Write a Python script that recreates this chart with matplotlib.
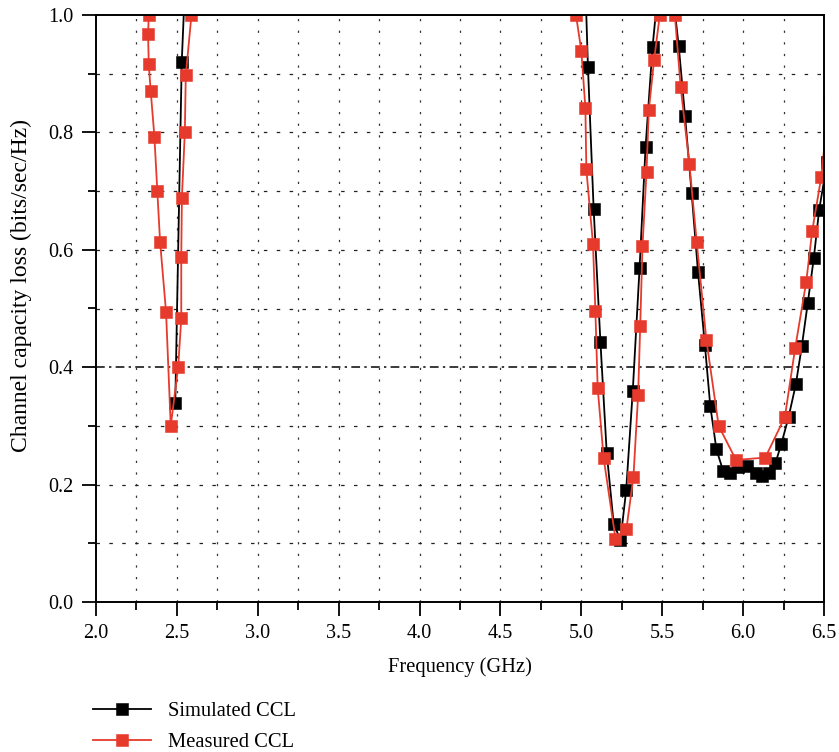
import matplotlib
matplotlib.use("Agg")
import matplotlib.pyplot as plt
import numpy as np

plt.rcParams['font.family'] = ['Liberation Serif', 'DejaVu Serif']

# Simulated CCL
sim_freq = [2.49, 2.53, 2.55, 5.025, 5.041, 5.076, 5.118, 5.157, 5.200, 5.242,
            5.277, 5.318, 5.360, 5.397, 5.440, 5.477, 5.560, 5.602, 5.641, 5.682,
            5.721, 5.764, 5.797, 5.835, 5.877, 5.918, 5.969, 6.027, 6.082, 6.119,
            6.160, 6.199, 6.236, 6.281, 6.326, 6.363, 6.400, 6.437, 6.470, 6.52]
sim_ccl = [0.339, 0.920, 1.05, 1.05, 0.911, 0.670, 0.443, 0.254, 0.133, 0.106,
           0.190, 0.360, 0.569, 0.775, 0.945, 1.05, 1.05, 0.947, 0.828, 0.696,
           0.563, 0.437, 0.334, 0.260, 0.223, 0.220, 0.230, 0.232, 0.219, 0.215,
           0.219, 0.236, 0.269, 0.315, 0.371, 0.436, 0.510, 0.586, 0.668, 0.75]

# Measured CCL
meas_freq = [2.326, 2.322, 2.326, 2.338, 2.361, 2.379, 2.396, 2.433, 2.462, 2.508,
             2.527, 2.527, 2.531, 2.549, 2.555, 2.590, 4.967, 5.000, 5.025, 5.031,
             5.072, 5.087, 5.101, 5.138, 5.211, 5.279, 5.322, 5.351, 5.364, 5.378,
             5.403, 5.417, 5.450, 5.485, 5.578, 5.614, 5.668, 5.713, 5.773, 5.849,
             5.956, 6.137, 6.258, 6.322, 6.390, 6.427, 6.483, 6.53]
meas_ccl = [1.000, 0.967, 0.916, 0.871, 0.793, 0.700, 0.614, 0.494, 0.300, 0.400,
            0.483, 0.588, 0.689, 0.800, 0.897, 1.000, 1.000, 0.939, 0.842, 0.737,
            0.610, 0.495, 0.365, 0.245, 0.108, 0.125, 0.213, 0.352, 0.471, 0.606,
            0.733, 0.838, 0.924, 1.000, 1.000, 0.877, 0.746, 0.614, 0.446, 0.300,
            0.242, 0.246, 0.315, 0.433, 0.545, 0.632, 0.724, 0.85]

x_ticks = [2.0, 2.5, 3.0, 3.5, 4.0, 4.5, 5.0, 5.5, 6.0, 6.5]
y_ticks = [0.0, 0.2, 0.4, 0.6, 0.8, 1.0]

RED = '#e63a2c'

fig = plt.figure(figsize=(8.39, 7.52), dpi=100)
ax = fig.add_axes([96/839, 1 - 602/752, 728/839, 587/752])

# grid
for xv in np.arange(2.25, 6.5, 0.25):
    ax.axvline(xv, color='#333333', lw=0.9, ls=(0, (1.8, 7.5)), zorder=1)
for yv in np.arange(0.1, 1.0, 0.1):
    if abs(yv - 0.4) < 1e-6:
        ax.axhline(yv, color='#3a3a3a', lw=1.4, ls=(0, (4.5, 2.2, 1.2, 2.2)), zorder=1)
    else:
        ax.axhline(yv, color='#222222', lw=0.9, ls=(0, (2.8, 7.5)), zorder=1)

ax.plot(sim_freq, sim_ccl, color='black', lw=1.3, marker='s', markersize=8.2,
        markeredgewidth=0.4, markerfacecolor='black', markeredgecolor='black',
        label='Simulated CCL', zorder=3)
ax.plot(meas_freq, meas_ccl, color=RED, lw=1.3, marker='s', markersize=8.2,
        markeredgewidth=0.4, markerfacecolor=RED, markeredgecolor=RED,
        label='Measured CCL', zorder=4)

ax.set_xlim(2.0, 6.5)
ax.set_ylim(0.0, 1.0)
ax.set_xticks(x_ticks)
ax.set_xticklabels([f'{v:.1f}' for v in x_ticks])
ax.set_xticks(np.arange(2.25, 6.5, 0.5), minor=True)
ax.set_yticks(y_ticks)
ax.set_yticklabels([f'{v:.1f}' for v in y_ticks])
ax.set_yticks(np.arange(0.1, 1.0, 0.2), minor=True)

ax.tick_params(axis='both', which='major', direction='out', length=10, width=1.3,
               labelsize=14.5, pad=6)
ax.tick_params(axis='both', which='minor', direction='out', length=6, width=1.3)
for s in ax.spines.values():
    s.set_linewidth(1.4)
    s.set_zorder(5)

ax.set_xlabel('Frequency (GHz)', fontsize=14.8, labelpad=10)
ax.set_ylabel('Channel capacity loss (bits/sec/Hz)', fontsize=17)
ax.yaxis.set_label_coords(-0.088, 0.54)

fig.legend(loc='upper left', bbox_to_anchor=(93/839, 1 - 702/752), frameon=False,
           fontsize=14.8, handlelength=2.8, handletextpad=0.85, labelspacing=0.55,
           borderpad=0, borderaxespad=0)

fig.savefig('out.png', dpi=100)
